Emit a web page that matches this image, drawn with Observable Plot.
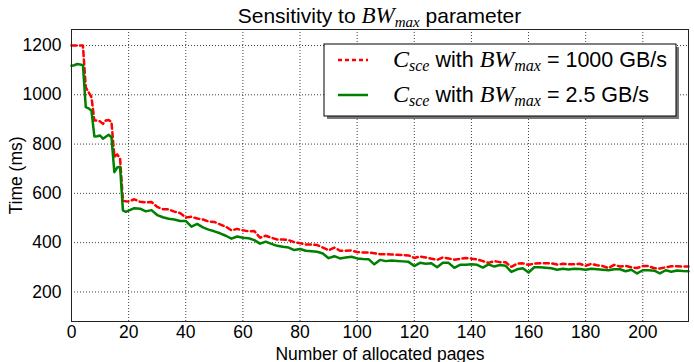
<!DOCTYPE html>
<html><head><meta charset="utf-8">
<script src="https://cdn.jsdelivr.net/npm/d3@7"></script>
<script src="https://cdn.jsdelivr.net/npm/@observablehq/plot@0.6"></script>
<style>html,body{margin:0;padding:0;background:#fff} svg{display:block}</style>
</head><body><div id="chart"></div>
<script>
// Number of allocated pages (shared x values)
const pages = [0,1,2,3,4,5,6,7,8,9,10,11,12,13,14,15,16,17,18,19,20,
  22,24,26,28,30,32,34,36,38,40,42,44,46,48,50,52,54,56,58,60,62,64,66,68,70,72,74,76,78,80,
  82,84,86,88,90,92,94,96,98,100,102,104,106,108,110,112,114,116,118,120,122,124,126,128,130,
  132,134,136,138,140,142,144,146,148,150,152,154,156,158,160,162,164,166,168,170,172,174,176,178,180,
  182,184,186,188,190,192,194,196,198,200,202,204,206,208,210,212,214,216];

// Time (ms), C_sce with BW_max = 1000 GB/s
const timeBW1000 = [1200,1200,1200,1200,1200,1030,1010,990,896,896,892,882,896,898,890,748,758,742,570,568,567,
  576,566,563,565,545,536,535,526,520,502,505,498,494,486,484,474,465,450,456,450,446,447,420,428,420,413,413,410,402,398,
  393,392,390,380,369,380,367,367,368,362,360,360,357,353,353,352,351,350,348,338,344,340,335,330,340,
  336,331,334,338,335,332,325,318,325,321,320,302,315,316,310,315,316,316,316,311,314,312,312,314,306,
  314,308,305,297,310,303,306,300,297,305,305,296,295,300,304,304,303,303];

// Time (ms), C_sce with BW_max = 2.5 GB/s
const timeBW25 = [1118,1120,1125,1123,1120,950,945,935,831,832,835,822,830,838,828,686,705,708,531,525,530,
  540,538,527,532,512,503,497,494,488,488,465,476,462,453,446,438,428,416,425,420,418,410,396,404,395,387,383,380,370,374,
  367,365,363,356,337,345,336,340,343,336,334,333,312,330,325,328,326,324,322,305,318,314,316,300,318,
  318,298,310,310,312,310,299,312,303,309,306,281,292,296,279,300,300,298,296,290,294,291,294,293,290,
  294,292,290,288,292,292,284,290,275,288,288,286,275,288,282,287,285,284];

const xTicks = [0,20,40,60,80,100,120,140,160,180,200];
const yTicks = [200,400,600,800,1000,1200];
const seriesKeys = ["1000", "2.5"];
const seriesColors = ["#ff0000", "#008000"];

const rowsA = pages.map((p, i) => ({pages: p, time: timeBW1000[i], series: seriesKeys[0]}));
const rowsB = pages.map((p, i) => ({pages: p, time: timeBW25[i], series: seriesKeys[1]}));

const W = 694, H = 362, mL = 71, mR = 6, mT = 29, mB = 41;
const gridStyle = {stroke: "#000", strokeOpacity: 0.75, strokeWidth: 1, strokeDasharray: "1,2"};
const fmt = d3.format("d");

const chart = Plot.plot({
  width: W, height: H,
  marginLeft: mL, marginRight: mR, marginTop: mT, marginBottom: mB,
  style: {fontFamily: "'Liberation Sans', Arial, sans-serif", fontSize: "17.5px", color: "#000", background: "#fff", overflow: "visible"},
  x: {domain: [0, 216]},
  y: {domain: [80, 1265]},
  marks: [
    Plot.gridX(xTicks, gridStyle),
    Plot.gridY(yTicks, gridStyle),
    Plot.axisX(xTicks, {tickFormat: fmt, tickSize: 0, tickPadding: 4, fontSize: 17.5, label: "Number of allocated pages", labelAnchor: "center", labelArrow: "none", labelOffset: 38}),
    Plot.axisY(yTicks, {tickFormat: fmt, tickSize: 0, tickPadding: 10, fontSize: 17.5, label: "Time (ms)", labelAnchor: "center", labelArrow: "none", labelOffset: 62}),
    Plot.lineY(rowsA, {x: "pages", y: "time", stroke: seriesColors[0], strokeWidth: 2.5, strokeDasharray: "5,3.5"}),
    Plot.lineY(rowsB, {x: "pages", y: "time", stroke: seriesColors[1], strokeWidth: 2.5}),
    Plot.frame({stroke: "#222", strokeWidth: 1})
  ]
});
document.getElementById("chart").appendChild(chart);

// Title and legend drawn on top of the Plot SVG
const svg = d3.select(chart);
const serif = "'Liberation Serif', 'DejaVu Serif', serif";
const sans = "'Liberation Sans', Arial, sans-serif";

const title = svg.append("text").attr("x", (mL + W - mR) / 2).attr("y", 23)
  .attr("text-anchor", "middle").attr("font-family", sans).attr("font-size", 21).attr("fill", "#000");
title.append("tspan").text("Sensitivity to ");
title.append("tspan").attr("font-family", serif).attr("font-style", "italic").attr("font-size", 23).text("BW");
title.append("tspan").attr("font-family", serif).attr("font-style", "italic").attr("font-size", 15).attr("dy", 4).text("max");
title.append("tspan").attr("dy", -4).text(" parameter");

const legendLabels = [["C", "sce", " with ", "BW", "max", " = 1000 GB/s"], ["C", "sce", " with ", "BW", "max", " = 2.5 GB/s"]];
const lg = svg.append("g");
lg.append("rect").attr("x", 327).attr("y", 47).attr("width", 352).attr("height", 72).attr("fill", "#777");
lg.append("rect").attr("x", 324).attr("y", 44).attr("width", 352).attr("height", 72).attr("fill", "#fff").attr("stroke", "#000").attr("stroke-width", 1);
legendLabels.forEach((parts, i) => {
  const cy = 60 + i * 35;
  lg.append("line").attr("x1", 338).attr("x2", 368).attr("y1", cy).attr("y2", cy)
    .attr("stroke", seriesColors[i]).attr("stroke-width", 2.5).attr("stroke-dasharray", i === 0 ? "4,3" : null);
  const t = lg.append("text").attr("x", 393).attr("y", cy + 7).attr("text-anchor", "start")
    .attr("font-family", sans).attr("font-size", 21.5).attr("fill", "#000");
  t.append("tspan").attr("font-family", serif).attr("font-style", "italic").attr("font-size", 24).text(parts[0]);
  t.append("tspan").attr("font-family", serif).attr("font-style", "italic").attr("font-size", 16).attr("dy", 4).text(parts[1]);
  t.append("tspan").attr("dy", -4).text(parts[2]);
  t.append("tspan").attr("font-family", serif).attr("font-style", "italic").attr("font-size", 24).text(parts[3]);
  t.append("tspan").attr("font-family", serif).attr("font-style", "italic").attr("font-size", 16).attr("dy", 4).text(parts[4]);
  t.append("tspan").attr("dy", -4).text(parts[5]);
});
</script>
</body></html>
